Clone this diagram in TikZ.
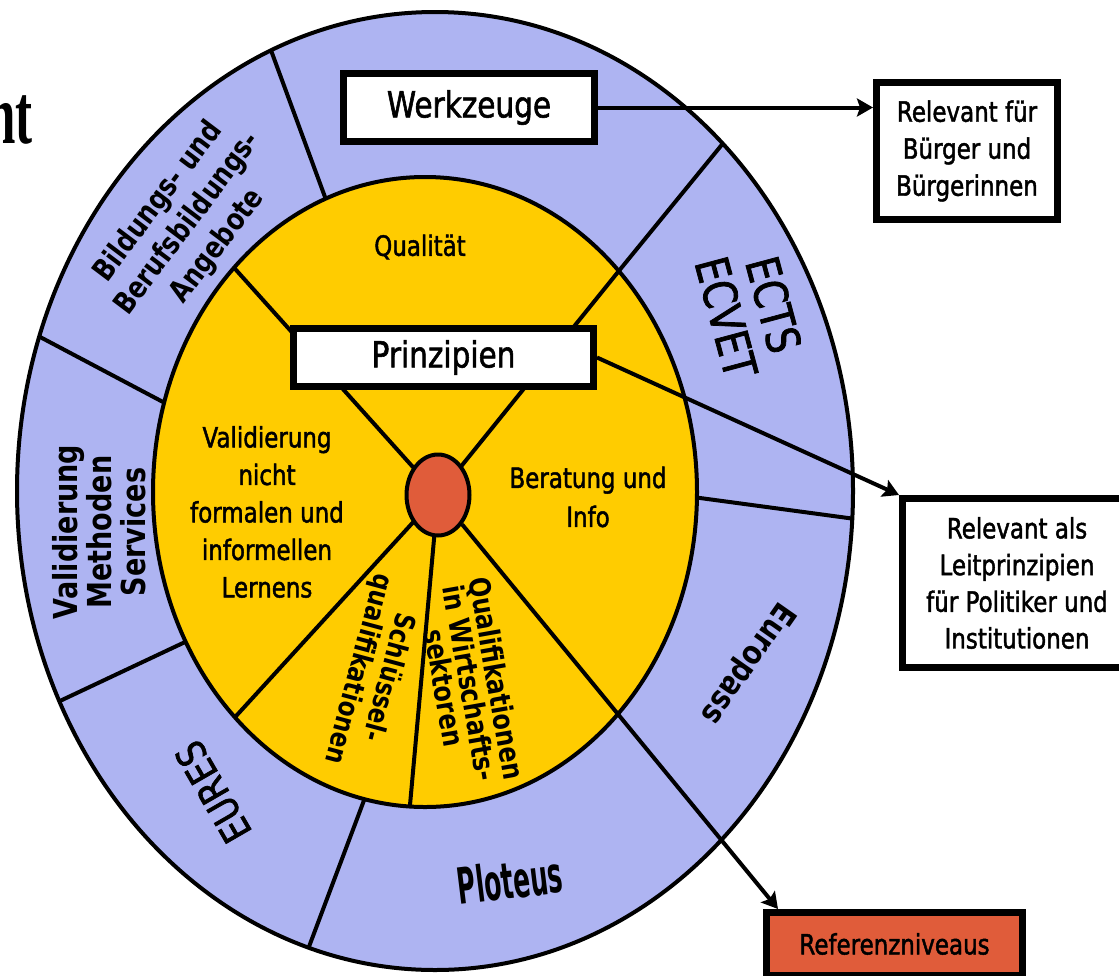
\documentclass[tikz,border=0pt]{standalone}
\usepackage{fontspec}
\setmainfont{DejaVu Sans}
\newfontfamily\fc{DejaVu Sans}[FakeStretch=0.82]
\newfontfamily\fr{DejaVu Sans}[FakeStretch=0.82,FakeBold=1.6]
\newfontfamily\fp{DejaVu Sans}[FakeStretch=0.5]
\newfontfamily\fser{Liberation Serif}[FakeStretch=0.6]
\usetikzlibrary{shapes.geometric,arrows.meta,calc}
\definecolor{ringblue}{HTML}{AEB4F2}
\definecolor{gold}{HTML}{FFCC00}
\definecolor{tomato}{HTML}{E05C3A}
\begin{document}
\begin{tikzpicture}[x=1pt,y=-1pt,
  lw/.style={line width=4pt},
  box/.style={draw, line width=7pt, fill=white, inner sep=0pt, align=center},
  arr/.style={line width=4pt, -{Stealth[length=16pt,width=18pt,inset=3pt]}},
  txt/.style={inner sep=0pt, align=center, font=\fr\fontsize{28}{37.5}\selectfont},
  btxt/.style={inner sep=0pt, align=center}
]
\useasboundingbox (0,0) rectangle (1119,975);
\clip (0,0) rectangle (1119,975);

\coordinate (C) at (435,491);
\coordinate (I) at (425,492);
\coordinate (rc) at (438,495);

% outer ring
\fill[ringblue] (C) ellipse [x radius=418, y radius=479];
\begin{scope}
  \clip (C) ellipse [x radius=418, y radius=479];
  \draw[lw] ($(325,197)!-0.3!(272,53)$) -- ($(325,197)!1.5!(272,53)$);
  \draw[lw] ($(163,402)!-0.3!(42,338)$) -- ($(163,402)!1.5!(42,338)$);
  \draw[lw] ($(183,643)!-0.3!(62,700)$) -- ($(183,643)!1.5!(62,700)$);
  \draw[lw] ($(363,803)!-0.3!(307,952)$) -- ($(363,803)!1.5!(307,952)$);
  \draw[lw] ($(700,498)!-0.3!(848,518)$) -- ($(700,498)!1.5!(848,518)$);
  \draw[lw] ($(618,272)!-0.3!(720,147)$) -- ($(618,272)!1.5!(720,147)$);
\end{scope}

% inner disc
\fill[gold] (I) ellipse [x radius=272, y radius=315];
\begin{scope}
  \clip (I) ellipse [x radius=272, y radius=315];
  \draw[lw] (rc) -- ($(rc)!1.2!(237,271)$);
  \draw[lw] (rc) -- ($(rc)!1.2!(618,272)$);
  \draw[lw] (rc) -- ($(rc)!1.2!(410,805)$);
  \draw[lw] (rc) -- ($(rc)!1.2!(237,715)$);
\end{scope}
\draw[lw] (I) ellipse [x radius=272, y radius=315];
\draw[lw] (C) ellipse [x radius=418, y radius=479];

% centre
\node[ellipse, draw, line width=4pt, fill=tomato, minimum width=63pt, minimum height=81pt, inner sep=0pt] (red) at (rc) {};

% boxes
\node[box, minimum width=251pt, minimum height=68pt, font=\fr\fontsize{36}{40}\selectfont] (werk) at (469,107.5) {Werkzeuge};
\node[box, minimum width=300pt, minimum height=58pt, font=\fr\fontsize{36}{40}\selectfont] (prinz) at (443.5,357.5) {Prinzipien};
\node[box, minimum width=181pt, minimum height=137pt, font=\fr\fontsize{28}{37}\selectfont] (relf) at (967,151) {Relevant für\\Bürger und\\Bürgerinnen};
\node[box, minimum width=229pt, minimum height=169pt, font=\fr\fontsize{28}{36.7}\selectfont] (relals) at (1017,583) {Relevant als\\Leitprinzipien\\für Politiker und\\Institutionen};
\node[box, fill=tomato, minimum width=256pt, minimum height=63pt, font=\fr\fontsize{28}{37}\selectfont] (ref) at (894.5,944) {Referenzniveaus};
\coordinate (refin) at ($(ref.north west)+(15,0)$);

% connectors
\draw[arr] (werk.east) -- (werk.east -| relf.west);
\draw[arr] (prinz.east) -- (relals.north west);
\draw[arr] (red) -- (refin);

% inner texts
\node[txt] (qual) at (420,247) {Qualität};
\node[txt] (valin) at (267,512) {Validierung\\nicht\\formalen und\\informellen\\Lernens};
\node[txt, font=\fr\fontsize{28}{39}\selectfont] (berat) at (588,497) {Beratung und\\Info};
\node[btxt, font=\fc\bfseries\fontsize{28}{31}\selectfont, rotate=-105] (schl) at (373,673) {Schlüssel-\\qualifikationen};
\node[btxt, font=\fc\bfseries\fontsize{29}{26}\selectfont, rotate=-80] (qwirt) at (471,683) {Qualifikationen\\in Wirtschafts-\\sektoren};

% ring texts
\node[btxt, font=\fr\fontsize{46}{49}\selectfont, rotate=-75] (ects) at (750,311) {ECTS\\ECVET};
\node[btxt, font=\fc\bfseries\fontsize{30}{37}\selectfont, rotate=53] (bild) at (188,224) {Bildungs- und\\Berufsbildungs-\\Angebote};
\node[btxt, font=\fc\bfseries\fontsize{33}{34}\selectfont, rotate=90] (valm) at (99,532) {Validierung\\Methoden\\Services};
\node[btxt, font=\fr\fontsize{40}{40}\selectfont, rotate=120] (eures) at (213,792) {EURES};
\node[btxt, font=\fp\bfseries\fontsize{50}{50}\selectfont, rotate=7] (plot) at (510,880) {Ploteus};
\node[btxt, font=\fc\bfseries\fontsize{33}{33}\selectfont, rotate=-125] (europ) at (747,663) {Europass};

% title fragment
\node[anchor=base east, inner sep=0pt, font=\fser\bfseries\fontsize{85}{85}\selectfont] (nt) at (33,143) {nt};
\end{tikzpicture}
\end{document}
